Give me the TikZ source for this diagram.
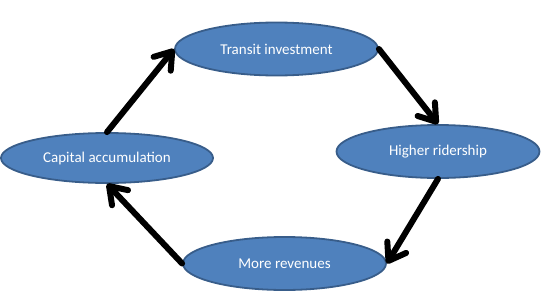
\documentclass[tikz,border=0pt]{standalone}
\usepackage{fontspec}
\setmainfont{Carlito}
\usetikzlibrary{shapes.geometric,arrows.meta}
\definecolor{boxfill}{HTML}{4F81BD}
\definecolor{boxline}{HTML}{385D8A}
\begin{document}
\begin{tikzpicture}[x=1pt,y=1pt,
  oval/.style={ellipse, draw=boxline, line width=1.8pt, fill=boxfill, inner sep=0pt,
    minimum width=203pt, minimum height=53pt, text=white,
    font=\fontsize{15}{18}\selectfont},
  flow/.style={line width=6pt, line cap=round, line join=round,
    -{Straight Barb[length=16pt,width=22pt,line cap=round,line join=round]}}]
\useasboundingbox (0,0) rectangle (552,301);
\node[oval] (ti) at (276.5,252) {Transit investment};
\node[oval] (hr) at (438,149.5) {Higher ridership};
\node[oval, minimum width=212pt, minimum height=50pt] (ca) at (107,143) {Capital accumulation};
\node[oval] (mr) at (284.5,37.5) {More revenues};
\draw[flow] (ca.north) -- (ti.west);
\draw[flow] (ti.east) -- (hr.north);
\draw[flow] (hr.south) -- (mr.east);
\draw[flow] (mr.west) -- (ca.south);
\end{tikzpicture}
\end{document}
